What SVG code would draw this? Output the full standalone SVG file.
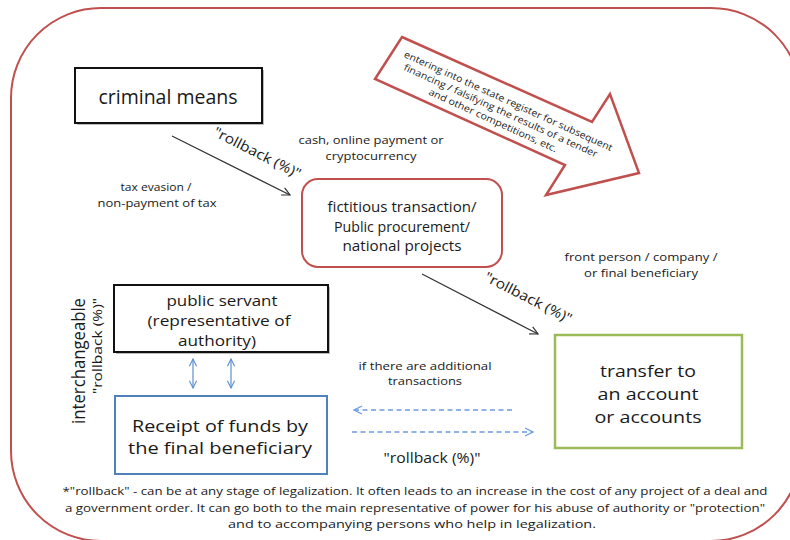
<svg xmlns="http://www.w3.org/2000/svg" width="790" height="540" viewBox="0 0 790 540">
<style>
text{font-family:"Open Sans","Liberation Sans",sans-serif;fill:#1a1a1a;text-anchor:middle}
.red{fill:none;stroke:#c0504d;stroke-width:2}
.box{fill:#fff;stroke:#111;stroke-width:2}
.conn{fill:none;stroke:#333;stroke-width:1.2;marker-end:url(#ah)}
.blue{fill:none;stroke:#5b8fd0;stroke-width:1.2;marker-start:url(#ab);marker-end:url(#ab)}
.dash{fill:none;stroke:#6d9be0;stroke-width:1.3;stroke-dasharray:5 3.5;marker-end:url(#ad)}
.sm{font-size:11.5px}
</style>
<defs>
<marker id="ah" viewBox="0 0 10 10" refX="9" refY="5" markerWidth="10" markerHeight="10" markerUnits="userSpaceOnUse" orient="auto"><path d="M1,1 L9,5 L1,9" fill="none" stroke="#333" stroke-width="1.2"/></marker>
<marker id="ab" viewBox="0 0 10 10" refX="9" refY="5" markerWidth="9" markerHeight="9" markerUnits="userSpaceOnUse" orient="auto-start-reverse"><path d="M1,1 L9,5 L1,9" fill="none" stroke="#5b8fd0" stroke-width="1.2"/></marker>
<marker id="ad" viewBox="0 0 10 10" refX="9" refY="5" markerWidth="10" markerHeight="10" markerUnits="userSpaceOnUse" orient="auto"><path d="M1,1 L9,5 L1,9" fill="none" stroke="#6d9be0" stroke-width="1.3"/></marker>
</defs>
<rect width="790" height="540" fill="#fff"/>
<g id="frame"><rect class="red" x="11" y="8" width="790" height="533" rx="90" ry="90"/></g>

<g id="big-arrow">
<polygon points="402,37 592,122 610,94 639,173 546,195 565,165 375,79" fill="#fff" stroke="#c0504d" stroke-width="2.5" stroke-linejoin="miter"/>
<g transform="translate(501,110) rotate(24.5)" font-size="9.5">
<text x="3" y="-8" textLength="228" lengthAdjust="spacingAndGlyphs">entering into the state register for subsequent</text>
<text x="0" y="4" textLength="212" lengthAdjust="spacingAndGlyphs">financing / falsifying the results of a tender</text>
<text x="-3" y="16" textLength="140" lengthAdjust="spacingAndGlyphs">and other competitions, etc.</text>
</g>
</g>

<g id="criminal-means">
<rect x="77" y="70" width="187" height="55" fill="#bbb"/>
<rect class="box" x="75" y="68" width="187" height="55"/>
<text x="168" y="104" font-size="19.5">criminal means</text>
</g>

<g id="fictitious">
<rect x="302" y="179" width="200" height="88" rx="16" ry="16" fill="#fff" stroke="#c0504d" stroke-width="2"/>
<text x="402" y="212" font-size="14" textLength="149" lengthAdjust="spacingAndGlyphs">fictitious transaction/</text>
<text x="402" y="231.5" font-size="14" textLength="136" lengthAdjust="spacingAndGlyphs">Public procurement/</text>
<text x="402" y="251" font-size="14" textLength="119" lengthAdjust="spacingAndGlyphs">national projects</text>
</g>

<g id="public-servant">
<rect x="116" y="287" width="214" height="67" fill="#bbb"/>
<rect class="box" x="114" y="285" width="214" height="67"/>
<text x="222" y="306" font-size="14.5" textLength="111" lengthAdjust="spacingAndGlyphs">public servant</text>
<text x="219" y="326" font-size="14.5" textLength="143" lengthAdjust="spacingAndGlyphs">(representative of</text>
<text x="217" y="346" font-size="14.5" textLength="78" lengthAdjust="spacingAndGlyphs">authority)</text>
</g>

<g id="receipt">
<rect x="115" y="396" width="212" height="78" fill="#fff" stroke="#4f81bd" stroke-width="2"/>
<text x="220" y="432" font-size="16" textLength="176" lengthAdjust="spacingAndGlyphs">Receipt of funds by</text>
<text x="220" y="454" font-size="16" textLength="184" lengthAdjust="spacingAndGlyphs">the final beneficiary</text>
</g>

<g id="transfer">
<rect x="555" y="335" width="187" height="113" fill="#fff" stroke="#9bbb59" stroke-width="2.5"/>
<text x="648" y="377" font-size="16.5" textLength="96" lengthAdjust="spacingAndGlyphs">transfer to</text>
<text x="648" y="400" font-size="16.5" textLength="101" lengthAdjust="spacingAndGlyphs">an account</text>
<text x="648" y="423" font-size="16.5" textLength="107" lengthAdjust="spacingAndGlyphs">or accounts</text>
</g>

<g id="connectors">
<line class="conn" x1="172" y1="136" x2="290" y2="195"/>
<line class="conn" x1="422" y1="274" x2="538" y2="334"/>
<line class="blue" x1="193" y1="359" x2="193" y2="388"/>
<line class="blue" x1="231" y1="359" x2="231" y2="388"/>
<line class="dash" x1="512" y1="410" x2="354" y2="410"/>
<line class="dash" x1="352" y1="432" x2="533" y2="432"/>
</g>

<g id="labels">
<text transform="translate(255,157) rotate(27)" font-size="14" textLength="96" lengthAdjust="spacingAndGlyphs">"rollback (%)"</text>
<text transform="translate(526,302) rotate(27)" font-size="14" textLength="96" lengthAdjust="spacingAndGlyphs">"rollback (%)"</text>
<text class="sm" x="371" y="144" textLength="145" lengthAdjust="spacingAndGlyphs">cash, online payment or</text>
<text class="sm" x="371" y="160" textLength="91" lengthAdjust="spacingAndGlyphs">cryptocurrency</text>
<text class="sm" x="156" y="191" textLength="71" lengthAdjust="spacingAndGlyphs">tax evasion /</text>
<text class="sm" x="157" y="207" textLength="119" lengthAdjust="spacingAndGlyphs">non-payment of tax</text>
<text class="sm" x="641" y="261" textLength="153" lengthAdjust="spacingAndGlyphs">front person / company /</text>
<text class="sm" x="641" y="277" textLength="114" lengthAdjust="spacingAndGlyphs">or final beneficiary</text>
<text x="425" y="370" font-size="11" textLength="133" lengthAdjust="spacingAndGlyphs">if there are additional</text>
<text x="425" y="385" font-size="11" textLength="74" lengthAdjust="spacingAndGlyphs">transactions</text>
<text x="432" y="463" font-size="15" textLength="97" lengthAdjust="spacingAndGlyphs">"rollback (%)"</text>
<text transform="translate(85,361) rotate(-90)" font-size="18" textLength="126" lengthAdjust="spacingAndGlyphs">interchangeable</text>
<text transform="translate(102,346) rotate(-90)" font-size="13" textLength="96" lengthAdjust="spacingAndGlyphs">"rollback (%)"</text>
<text x="415" y="495" font-size="11.5" textLength="705" lengthAdjust="spacingAndGlyphs">*"rollback" - can be at any stage of legalization. It often leads to an increase in the cost of any project of a deal and</text>
<text x="415" y="512" font-size="11.5" textLength="700" lengthAdjust="spacingAndGlyphs">a government order. It can go both to the main representative of power for his abuse of authority or "protection"</text>
<text x="412" y="528" font-size="11.5" textLength="368" lengthAdjust="spacingAndGlyphs">and to accompanying persons who help in legalization.</text>
</g>
</svg>
